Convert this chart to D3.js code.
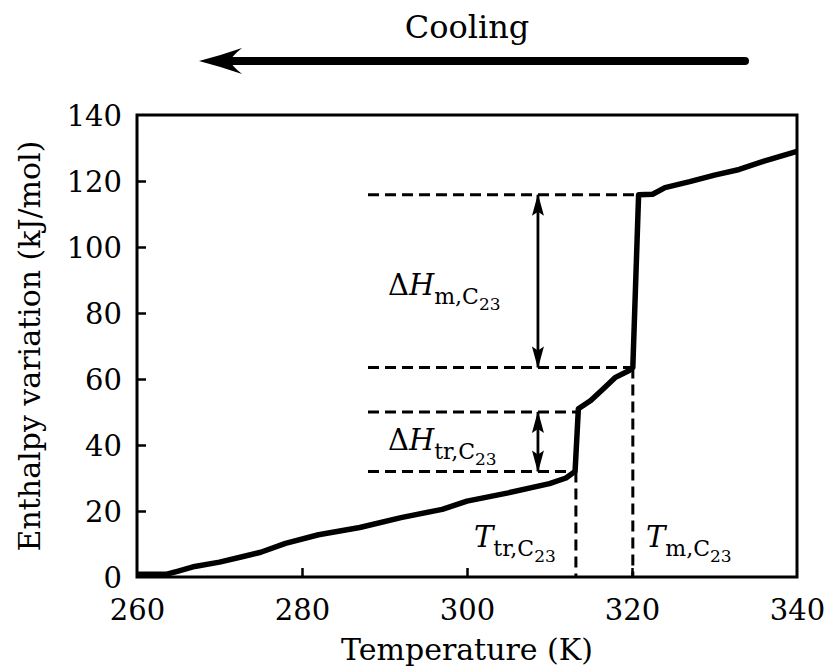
<!DOCTYPE html>
<html lang="en">
<head>
  <meta charset="UTF-8">
  <title>Enthalpy variation on cooling</title>
  <style>
    body { margin: 0; background: #fff; }
    svg text { font-family: "DejaVu Serif", "Liberation Serif", serif; fill: #000; }
    .tick-label { font-size: 29px; }
    .axis-title { font-size: 30px; }
    .note { font-size: 29px; }
    .curve { fill: none; stroke: #000; stroke-width: 5.5px; stroke-linejoin: round; }
    .guide { fill: none; stroke: #000; stroke-width: 3px; stroke-dasharray: 11 6; }
    .frame { fill: none; stroke: #000; stroke-width: 3px; }
  </style>
</head>
<body>

<div id="chart"></div>

<script src="https://d3js.org/d3.v7.min.js"></script>
<script>
  // curve
  var temperature = [260, 263.5, 265, 267, 270, 273, 275, 278, 282, 287, 292, 297, 300, 305, 310, 312, 313.1, 313.5, 315, 316.5, 318, 319.6, 320.1, 320.8, 322.5, 324, 327, 330, 333, 336, 340];
  var enthalpy    = [0.8, 0.8, 1.8, 3.2, 4.5, 6.3, 7.5, 10.2, 12.8, 15, 18, 20.5, 23, 25.5, 28.3, 30, 32, 51, 53.5, 57, 60.5, 62.5, 63.5, 115.8, 116, 118, 119.8, 121.8, 123.5, 126, 129];

  var xTicks = [260, 280, 300, 320, 340];
  var yTicks = [0, 20, 40, 60, 80, 100, 120, 140];

  // transition markers
  var tTr = 313.2, tM = 320.1;
  var hLevels = [115.8, 63.5, 50, 32];   // dashed guide levels
  var guideStart = 288;
  var arrowX = 308.6;

  var W = 833, H = 671;
  var margin = { left: 137, right: 36, top: 115, bottom: 94 };

  var svg = d3.select("#chart").append("svg")
    .attr("width", W).attr("height", H);

  var x = d3.scaleLinear().domain([260, 340]).range([margin.left, W - margin.right]);
  var y = d3.scaleLinear().domain([0, 140]).range([H - margin.bottom, margin.top]);

  var defs = svg.append("defs");
  defs.append("marker")
    .attr("id", "head")
    .attr("viewBox", "0 0 22 12")
    .attr("refX", 21).attr("refY", 6)
    .attr("markerWidth", 22).attr("markerHeight", 12)
    .attr("markerUnits", "userSpaceOnUse")
    .attr("orient", "auto-start-reverse")
    .append("path")
    .attr("d", "M0,0 L22,6 L0,12 L4,6 Z")
    .attr("fill", "#000");

  // frame box
  svg.append("rect").attr("class", "frame")
    .attr("x", x(260)).attr("y", y(140))
    .attr("width", x(340) - x(260)).attr("height", y(0) - y(140));

  // inward ticks
  var xAxis = d3.axisBottom(x).tickValues(xTicks).tickSizeInner(-9).tickSizeOuter(0).tickPadding(22);
  var yAxis = d3.axisLeft(y).tickValues(yTicks).tickSizeInner(-9).tickSizeOuter(0).tickPadding(15);

  var gx = svg.append("g").attr("transform", "translate(0," + y(0) + ")").call(xAxis);
  var gy = svg.append("g").attr("transform", "translate(" + x(260) + ",0)").call(yAxis);
  [gx, gy].forEach(function(g) {
    g.select(".domain").remove();
    g.selectAll(".tick line").attr("stroke", "#000").attr("stroke-width", 2.5);
    g.selectAll(".tick text").attr("class", "tick-label").attr("font-family", null).attr("font-size", null);
  });
  gx.selectAll(".tick text").attr("dy", "0.72em");
  gy.selectAll(".tick text").attr("dy", "0.36em");
  // end ticks sit on the frame
  gx.selectAll(".tick").filter(function(d) { return d === 260 || d === 340; }).select("line").remove();
  gy.selectAll(".tick").filter(function(d) { return d === 0 || d === 140; }).select("line").remove();

  // axis titles
  svg.append("text").attr("class", "axis-title")
    .attr("x", (x(260) + x(340)) / 2).attr("y", 660)
    .attr("text-anchor", "middle").text("Temperature (K)");
  svg.append("text").attr("class", "axis-title")
    .attr("transform", "translate(40," + (y(70)) + ") rotate(-90)")
    .attr("text-anchor", "middle").text("Enthalpy variation (kJ/mol)");

  // dashed guides
  var tEnds = [320.6, tM, tTr + 0.3, tTr];
  hLevels.forEach(function(h, i) {
    svg.append("line").attr("class", "guide")
      .attr("x1", x(guideStart)).attr("x2", x(tEnds[i]))
      .attr("y1", y(h)).attr("y2", y(h));
  });
  svg.append("line").attr("class", "guide")
    .attr("x1", x(tTr)).attr("x2", x(tTr)).attr("y1", y(32)).attr("y2", y(0));
  svg.append("line").attr("class", "guide")
    .attr("x1", x(tM)).attr("x2", x(tM)).attr("y1", y(63.5)).attr("y2", y(0));

  // double arrows
  [[hLevels[0], hLevels[1]], [hLevels[2], hLevels[3]]].forEach(function(p) {
    svg.append("line")
      .attr("x1", x(arrowX)).attr("x2", x(arrowX))
      .attr("y1", y(p[0])).attr("y2", y(p[1]))
      .attr("stroke", "#000").attr("stroke-width", 2.8)
      .attr("marker-start", "url(#head)").attr("marker-end", "url(#head)");
  });

  // curve
  var pts = temperature.map(function(t, i) { return [t, enthalpy[i]]; });
  var line = d3.line().x(function(d) { return x(d[0]); }).y(function(d) { return y(d[1]); });
  svg.append("path").datum(pts).attr("class", "curve").attr("d", line);

  // labels with subscripts
  function label(px, py, main, sub) {
    var t = svg.append("text").attr("class", "note").attr("x", px).attr("y", py);
    if (main === "dH") {
      t.append("tspan").text("\u0394");
      t.append("tspan").attr("font-style", "italic").text("H");
    } else {
      t.append("tspan").attr("font-style", "italic").text("T");
    }
    t.append("tspan").attr("dy", 9).attr("font-size", "22px").text(sub + ",C");
    t.append("tspan").attr("dy", 6).attr("font-size", "17px").text("23");
  }
  label(388, 295, "dH", "m");
  label(388, 450, "dH", "tr");
  label(474, 547, "T", "tr");
  label(646, 547, "T", "m");

  // cooling arrow
  svg.append("line")
    .attr("x1", 745).attr("x2", 228).attr("y1", 61).attr("y2", 61)
    .attr("stroke", "#000").attr("stroke-width", 8).attr("stroke-linecap", "round");
  svg.append("path")
    .attr("d", "M199,61 Q222,55 242,48 Q232,56 230,61 Q232,66 242,74 Q222,67 199,61 Z")
    .attr("fill", "#000");
  svg.append("text").attr("class", "axis-title")
    .attr("x", 467).attr("y", 38).attr("font-size", "32px").style("font-size", "32px")
    .attr("text-anchor", "middle").text("Cooling");
</script>

</body>
</html>
